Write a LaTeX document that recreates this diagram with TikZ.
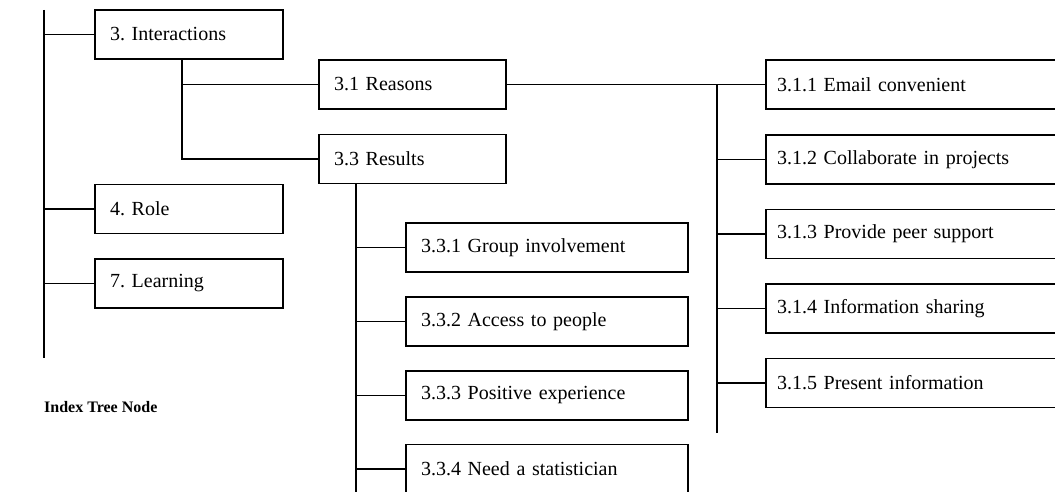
\documentclass[tikz,border=0pt]{standalone}
\usepackage{fontspec}
\setmainfont{Liberation Serif}
\usetikzlibrary{positioning,calc}
\frenchspacing

\begin{document}
\begin{tikzpicture}[x=1pt, y=-1pt,
    every node/.style={font=\fontsize{20}{24}\selectfont},
    topic/.style={draw, line width=1.1pt, minimum height=49pt, inner ysep=0pt,
      inner xsep=15pt, text width=#1, align=left},
    link/.style={line width=1.1pt}]
  \useasboundingbox (0,0) rectangle (1055,492);
  % first level
  \node[topic=158pt] (interact) at (189,34.5) {3. Interactions};
  \node[topic=158pt] (role) at (189,209) {4. Role};
  \node[topic=158pt] (learning) at (189,283.5) {7. Learning};
  % second level
  \node[topic=157pt] (reasons) at (412.5,84.5) {3.1 Reasons};
  \node[topic=157pt] (results) at (412.5,159) {3.3 Results};
  % children of 3.3
  \node[topic=252pt] (grp) at (547,247.5) {3.3.1 Group involvement};
  \node[topic=252pt] (access) at (547,321.5) {3.3.2 Access to people};
  \node[topic=252pt] (positive) at (547,395.5) {3.3.3 Positive experience};
  \node[topic=252pt] (statist) at (547,469) {3.3.4 Need a statistician};
  % children of 3.1
  \node[topic=298pt, inner xsep=11pt] (email) at (926,84.5) {3.1.1 Email convenient};
  \node[topic=298pt, inner xsep=11pt] (collab) at (926,159.5) {3.1.2 Collaborate in projects};
  \node[topic=298pt, inner xsep=11pt] (peer) at (926,234) {3.1.3 Provide peer support};
  \node[topic=298pt, inner xsep=11pt] (sharing) at (926,308.5) {3.1.4 Information sharing};
  \node[topic=298pt, inner xsep=11pt] (present) at (926,383) {3.1.5 Present information};
  % root trunk
  \coordinate (trunktop) at (44,10);
  \coordinate (trunkend) at (44,358);
  \draw[link] (trunktop) -- (trunkend);
  \foreach \n in {interact,role,learning}
    \draw[link] (\n.west) -- (\n.west -| trunktop);
  % 3. Interactions
  \coordinate (ia) at ([xshift=-7pt]interact.south);
  \draw[link] (ia) |- (results.west);
  \draw[link] (ia |- reasons.west) -- (reasons.west);
  % 3.3 Results
  \coordinate (ra) at ([xshift=-56.5pt]results.south);
  \coordinate (rb) at (ra |- 0,500);
  \draw[link] (ra) -- (rb);
  \foreach \n in {grp,access,positive,statist}
    \draw[link] (\n.west) -- (\n.west -| ra);
  % 3.1 Reasons
  \draw[link] (reasons.east) -- (email.west);
  \coordinate (sa) at (717,84.5);
  \coordinate (sb) at (717,433);
  \draw[link] (sa) -- (sb);
  \foreach \n in {collab,peer,sharing,present}
    \draw[link] (\n.west) -- (\n.west -| sa);
  \node[font=\bfseries\fontsize{16}{19}\selectfont, anchor=west, inner sep=0pt]
    (caption) at (44,407) {Index Tree Node};
\end{tikzpicture}
\end{document}
